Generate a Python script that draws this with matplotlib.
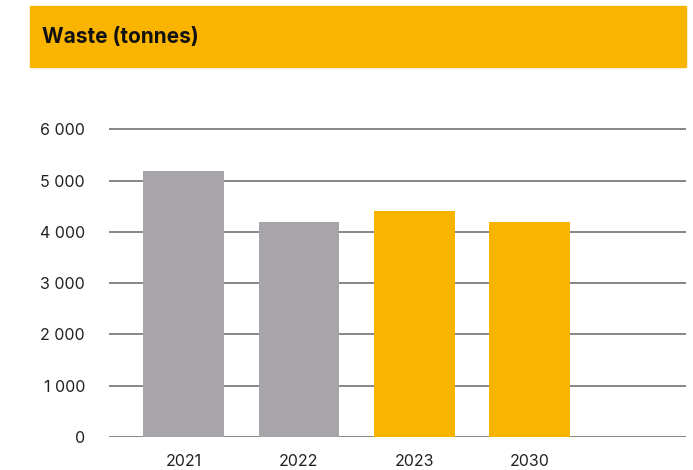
import matplotlib
matplotlib.use("Agg")
import matplotlib.pyplot as plt
from matplotlib.patches import Rectangle
from matplotlib.ticker import FuncFormatter

years = ["2021", "2022", "2023", "2030"]
waste = [5190, 4190, 4410, 4190]
gray = "#A7A5AA"
yellow = "#F9B400"
colors = [gray, gray, yellow, yellow]

plt.rcParams["font.family"] = ["Inter", "DejaVu Sans"]

fig = plt.figure(figsize=(6.93, 4.70), dpi=100)

# header band with title
fig.patches.append(Rectangle((30 / 693, 1 - 67 / 470), 656 / 693, 61 / 470,
                             transform=fig.transFigure, color=yellow, zorder=0))
fig.text(41.5 / 693, 1 - 37 / 470, "Waste (tonnes)", fontsize=15, fontweight="bold",
         color="#111111", va="center", ha="left")

ymax = 6100
ax = fig.add_axes([108.5 / 693, 1 - 437 / 470, 577 / 693, 0.6547 * ymax / 6000])
x = range(len(years))
ax.bar(x, waste, width=0.7, color=colors, zorder=2)

ax.set_xlim(-0.65, 4.35)
ax.set_ylim(0, ymax)
ax.set_yticks(range(0, 6001, 1000))
ax.yaxis.set_major_formatter(FuncFormatter(lambda v, p: f"{int(v):,}".replace(",", " ")))
ax.set_xticks(list(x))
ax.set_xticklabels(years)
ax.grid(axis="y", color="#666666", linewidth=1.1, zorder=1)
ax.set_axisbelow(True)
for s in ax.spines.values():
    s.set_visible(False)
ax.tick_params(axis="both", length=0, labelsize=11.5, colors="#222222")
ax.tick_params(axis="y", pad=17)
ax.tick_params(axis="x", pad=12)

fig.savefig("out.png", dpi=100)
